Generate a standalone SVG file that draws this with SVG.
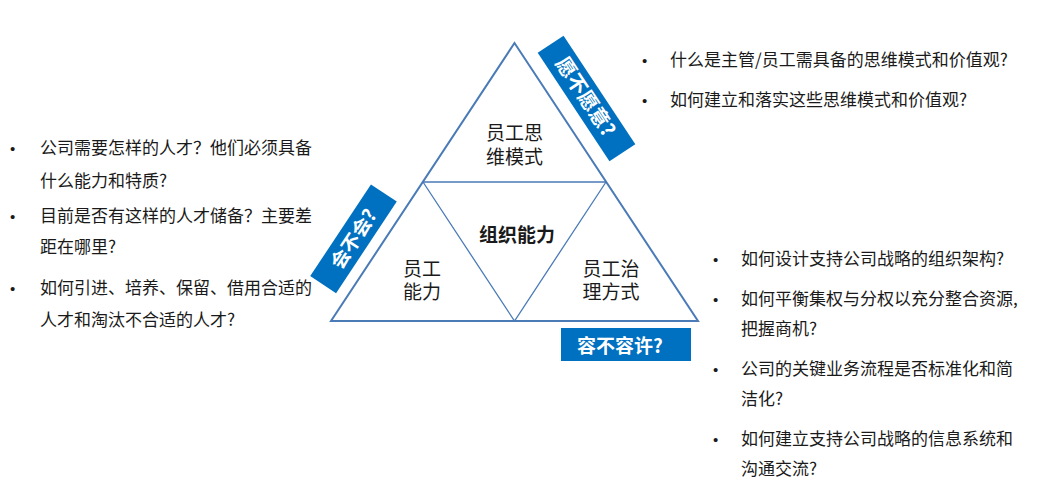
<svg xmlns="http://www.w3.org/2000/svg" width="1051" height="487" viewBox="0 0 1051 487">
<style>
.t{font-family:"Noto Sans CJK SC","Liberation Sans",sans-serif;font-size:17px;fill:#1a1a1a}
.b{font-family:"Liberation Sans",sans-serif;font-size:15px;fill:#1a1a1a}
.n{font-family:"Noto Sans CJK SC","Liberation Sans",sans-serif;font-size:19px;fill:#1a1a1a;text-anchor:middle}
.nb{font-weight:bold}
.tag{fill:#0070c0}
.tt{font-family:"Noto Sans CJK SC","Liberation Sans",sans-serif;font-size:20px;font-weight:bold;fill:#ffffff}
.outer{fill:none;stroke:#4a7bb7;stroke-width:2}
.inner{fill:none;stroke:#4a7bb7;stroke-width:1.3}
</style>
<rect width="1051" height="487" fill="#ffffff"/>
<g id="connectors">
<polygon class="outer" points="514.5,43 331,321 698,321"/>
<polygon class="inner" points="423,182 606,182 514.5,321"/>
</g>
<g id="node-mindset">
<text class="n" x="514.5" y="140">员工思<tspan x="514.5" dy="24">维模式</tspan></text>
</g>
<g id="node-core">
<text class="n nb" x="517" y="242">组织能力</text>
</g>
<g id="node-ability">
<text class="n" x="422" y="276">员工<tspan x="422" dy="23">能力</tspan></text>
</g>
<g id="node-governance">
<text class="n" x="611" y="276">员工治<tspan x="611" dy="23">理方式</tspan></text>
</g>
<g id="tag-willing" transform="translate(586.5,98.5) rotate(56.5)">
<rect class="tag" x="-65" y="-15.5" width="130" height="31"/>
<text class="tt" x="-2" y="7" text-anchor="middle">愿不愿意?</text>
</g>
<g id="tag-can" transform="translate(353.5,238.8) rotate(-56.5)">
<rect class="tag" x="-55" y="-15.5" width="110" height="31"/>
<text class="tt" x="0" y="7" text-anchor="middle" style="font-size:19px">会不会?</text>
</g>
<g id="tag-allow">
<rect class="tag" x="561" y="328" width="130" height="33"/>
<text class="tt" x="577" y="353" style="font-size:19px">容不容许?</text>
</g>
<g id="text-left">
<text class="b" x="10" y="154">•</text>
<text class="t" x="40" y="154">公司需要怎样的人才？他们必须具备</text>
<text class="t" x="40" y="187">什么能力和特质?</text>
<text class="b" x="10" y="222">•</text>
<text class="t" x="40" y="222">目前是否有这样的人才储备？主要差</text>
<text class="t" x="40" y="253">距在哪里?</text>
<text class="b" x="10" y="294">•</text>
<text class="t" x="40" y="294">如何引进、培养、保留、借用合适的</text>
<text class="t" x="40" y="326">人才和淘汰不合适的人才?</text>
</g>
<g id="text-top">
<text class="b" x="642" y="66">•</text>
<text class="t" x="670" y="66">什么是主管/员工需具备的思维模式和价值观?</text>
<text class="b" x="642" y="106">•</text>
<text class="t" x="670" y="106">如何建立和落实这些思维模式和价值观?</text>
</g>
<g id="text-right">
<text class="b" x="713" y="265">•</text>
<text class="t" x="741" y="265">如何设计支持公司战略的组织架构?</text>
<text class="b" x="713" y="305">•</text>
<text class="t" x="741" y="305">如何平衡集权与分权以充分整合资源,</text>
<text class="t" x="741" y="335">把握商机?</text>
<text class="b" x="713" y="375">•</text>
<text class="t" x="741" y="375">公司的关键业务流程是否标准化和简</text>
<text class="t" x="741" y="405">洁化?</text>
<text class="b" x="713" y="445">•</text>
<text class="t" x="741" y="445">如何建立支持公司战略的信息系统和</text>
<text class="t" x="741" y="475">沟通交流?</text>
</g>
</svg>
